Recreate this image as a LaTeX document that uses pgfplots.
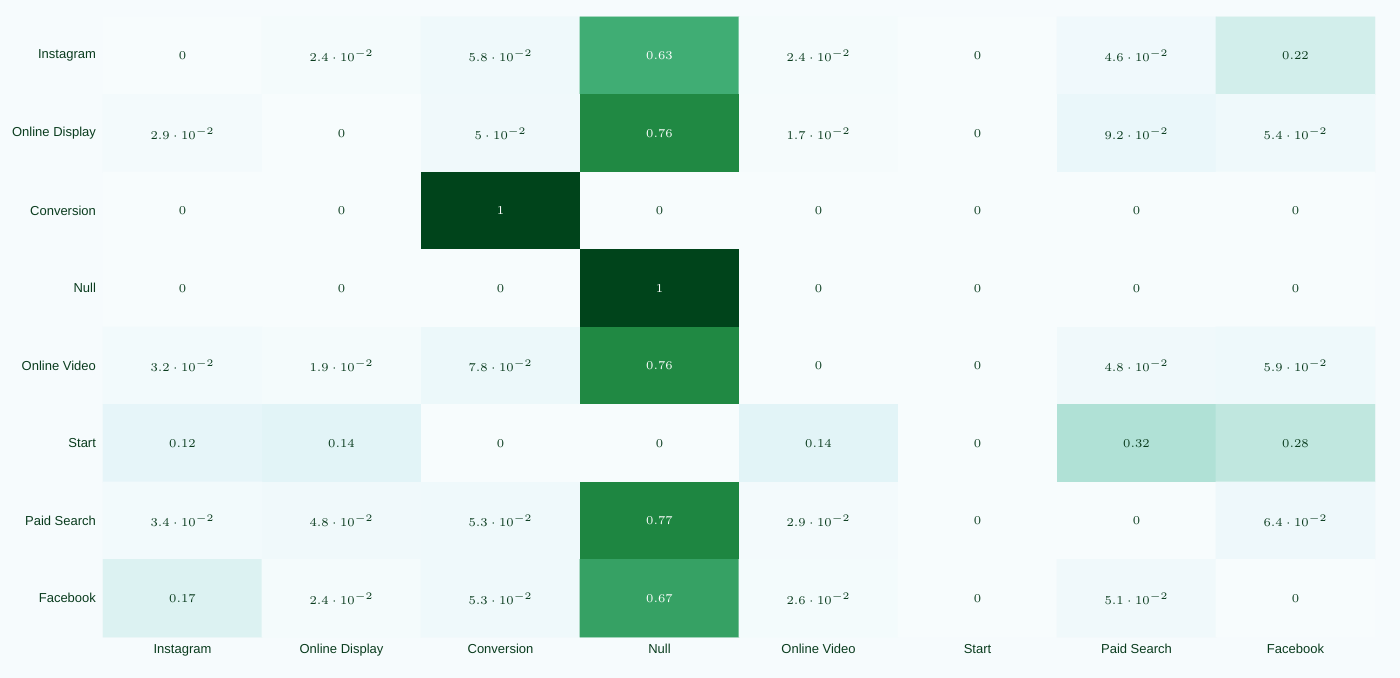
\documentclass[border=0pt]{standalone}
\usepackage{pgfplots}
\pgfplotsset{compat=1.18}
\usepackage{fontspec}
\setmainfont{Liberation Sans}
\definecolor{bg}{RGB}{246,251,253}
\definecolor{lbl}{RGB}{10,60,30}
\pgfplotstableread{
x y c
0 0 0
1 0 0.024
2 0 0.058
3 0 0.63
4 0 0.024
5 0 0
6 0 0.046
7 0 0.22
0 1 0.029
1 1 0
2 1 0.05
3 1 0.76
4 1 0.017
5 1 0
6 1 0.092
7 1 0.054
0 2 0
1 2 0
2 2 1
3 2 0
4 2 0
5 2 0
6 2 0
7 2 0
0 3 0
1 3 0
2 3 0
3 3 1
4 3 0
5 3 0
6 3 0
7 3 0
0 4 0.032
1 4 0.019
2 4 0.078
3 4 0.76
4 4 0
5 4 0
6 4 0.048
7 4 0.059
0 5 0.12
1 5 0.14
2 5 0
3 5 0
4 5 0.14
5 5 0
6 5 0.32
7 5 0.28
0 6 0.034
1 6 0.048
2 6 0.053
3 6 0.77
4 6 0.029
5 6 0
6 6 0
7 6 0.064
0 7 0.17
1 7 0.024
2 7 0.053
3 7 0.67
4 7 0.026
5 7 0
6 7 0.051
7 7 0
}\datatable
\begin{document}
\begin{tikzpicture}
\fill[bg, use as bounding box] (-51.5pt,-20.5pt) rectangle (648.5pt,318.5pt);
\begin{axis}[
  at={(0,0)}, anchor=south west,
  scale only axis, width=636pt, height=310pt,
  xmin=-0.5, xmax=7.5, ymin=-0.5, ymax=7.5, y dir=reverse,
  axis line style={draw=none}, tick style={draw=none},
  xtick={0,...,7}, ytick={0,...,7},
  xticklabels={Instagram,Online Display,Conversion,Null,Online Video,Start,Paid Search,Facebook},
  yticklabels={Instagram,Online Display,Conversion,Null,Online Video,Start,Paid Search,Facebook},
  ticklabel style={font=\fontsize{6.5}{7}\selectfont, text=lbl},
  colormap={bugn}{rgb255=(247,252,253) rgb255=(229,245,249) rgb255=(204,236,230) rgb255=(153,216,201) rgb255=(102,194,164) rgb255=(65,174,118) rgb255=(35,139,69) rgb255=(0,109,44) rgb255=(0,68,27)},
  point meta min=0, point meta max=1,
]
\addplot[matrix plot*, mesh/cols=8, point meta=explicit,
  nodes near coords={\pgfmathfloattofixed{\pgfplotspointmeta}\ifdim\pgfmathresult pt>0.5pt\color{white}\else\color{lbl}\fi\pgfmathprintnumber[precision=3]{\pgfplotspointmeta}},
  every node near coord/.append style={anchor=center, font=\fontsize{6.5}{7}\selectfont}]
  table[meta=c] {\datatable};
\end{axis}
\end{tikzpicture}
\end{document}
